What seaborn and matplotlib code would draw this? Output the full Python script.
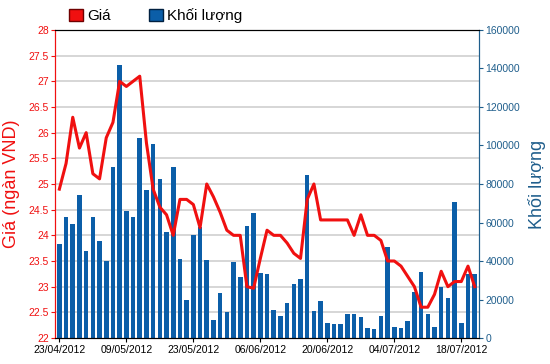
import matplotlib
matplotlib.use("Agg")
import matplotlib.pyplot as plt
from matplotlib.patches import Patch
import pandas as pd
import numpy as np
import seaborn as sns

# trading days 23/04/2012 - 20/07/2012 (30/04 and 01/05 are holidays)
dates = pd.bdate_range("2012-04-23", "2012-07-20")
dates = dates[~dates.isin(pd.to_datetime(["2012-04-30", "2012-05-01"]))]
date_labels = dates.strftime("%d/%m/%Y").tolist()

price = [24.9, 25.4, 26.3, 25.7, 26.0, 25.2, 25.1, 25.9, 26.2, 27.0,
         26.9, 27.0, 27.1, 25.8, 24.9, 24.55, 24.4, 24.0, 24.7, 24.7,
         24.6, 24.15, 25.0, 24.75, 24.45, 24.1, 24.0, 24.0, 23.0, 22.97,
         23.55, 24.1, 24.0, 24.0, 23.85, 23.65, 23.55, 24.7, 25.0, 24.3,
         24.3, 24.3, 24.3, 24.3, 24.0, 24.4, 24.0, 24.0, 23.9, 23.5,
         23.5, 23.4, 23.2, 23.0, 22.6, 22.6, 22.85, 23.3, 23.0, 23.1,
         23.1, 23.4, 23.0]

volume = [49000, 63000, 59000, 74500, 45000, 63000, 50500, 40000, 89000, 142000,
          66000, 63000, 104000, 77000, 101000, 82600, 55000, 89000, 40800, 19500,
          53600, 57800, 40600, 9500, 23400, 13600, 39700, 31800, 58100, 65000,
          33800, 33000, 14800, 11500, 18000, 27800, 30500, 84700, 14200, 19400,
          8000, 7300, 7300, 12500, 12500, 10800, 5200, 4500, 11300, 47200,
          5800, 5100, 8600, 24000, 34400, 12500, 5800, 26300, 20800, 70400,
          7900, 33500, 33000]

tick_every = 10

red = "#f01010"
blue = "#0b5ea8"
axis_blue = "#1f5e8c"

plt.rcParams["font.family"] = ["Liberation Sans", "DejaVu Sans"]

df = pd.DataFrame({"date": date_labels, "price": price, "volume": volume})
df["pos"] = np.arange(len(df))

fig = plt.figure(figsize=(5.5, 3.64), dpi=100)
ax = fig.add_axes([0.1, 0.0714, 0.771, 0.8462])
ax2 = ax.twinx()

# volume bars on the primary axes so the price line is drawn above them
sns.barplot(data=df, x="date", y="volume", color=blue, saturation=1,
            width=0.68, ax=ax)
ax.set_ylim(0, 160000)
ax.set_yticks(np.arange(0, 160001, 20000))
ax.yaxis.tick_right()
ax.yaxis.set_label_position("right")
ax.set_ylabel("Khối lượng", color=axis_blue, fontsize=13, rotation=90, labelpad=6)
ax.tick_params(axis="y", colors=axis_blue, labelsize=7.5, length=3, direction="out", pad=1.5)
ax.set_xlabel("")

sns.lineplot(data=df, x="pos", y="price", color=red, linewidth=2.2, ax=ax2)
ax2.set_ylim(22, 28)
ax2.set_yticks(np.arange(22, 28.01, 0.5))
ax2.set_yticklabels([f"{v:g}" for v in np.arange(22, 28.01, 0.5)])
ax2.yaxis.tick_left()
ax2.yaxis.set_label_position("left")
ax2.set_ylabel("Giá (ngàn VND)", color=red, fontsize=13, labelpad=6)
ax2.tick_params(axis="y", colors=red, labelsize=7.5, length=3, direction="out", pad=1.5)
ax2.set_xlabel("")

# horizontal grid matching the price ticks
ax.set_axisbelow(True)
for y in np.arange(22.5, 28, 0.5):
    ax.axhline((y - 22) / 6 * 160000, color="#d0d0d0", linewidth=1.2, zorder=0)

ticks = list(range(0, len(df), tick_every))
ax.set_xticks(ticks)
ax.set_xticklabels([date_labels[i] for i in ticks], fontsize=7.5)
ax.tick_params(axis="x", length=3, pad=2)
ax.set_xlim(-0.65, len(df) - 0.35)
ax2.set_xlim(-0.65, len(df) - 0.35)

for a in (ax, ax2):
    a.spines["top"].set_color("black")
    a.spines["bottom"].set_color("black")
    a.spines["left"].set_color(red)
    a.spines["right"].set_color(axis_blue)

handles = [Patch(facecolor=red, edgecolor="#700000", label="Giá"),
           Patch(facecolor=blue, edgecolor="#002040", label="Khối lượng")]
fig.legend(handles=handles, loc="upper left", bbox_to_anchor=(0.1, 1.015),
           ncol=2, frameon=False, fontsize=11, handlelength=0.9,
           handleheight=0.9, handletextpad=0.3, columnspacing=2.5)

fig.savefig("out.png", dpi=100)
